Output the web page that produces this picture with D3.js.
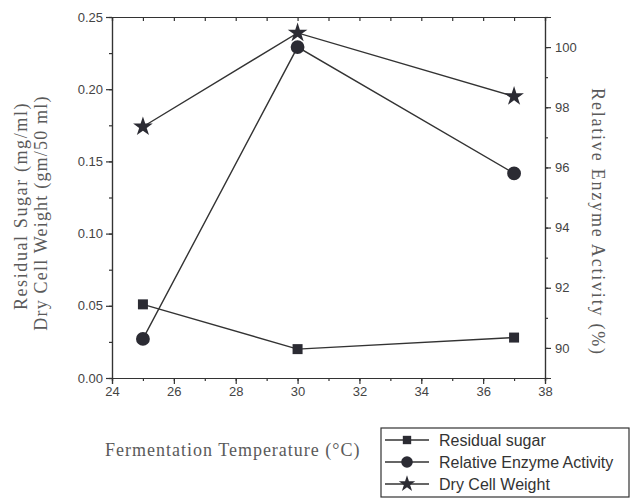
<!DOCTYPE html>
<html>
<head>
<meta charset="utf-8">
<script src="https://cdn.jsdelivr.net/npm/d3@7"></script>
<style>
  body { margin: 0; background: #fff; }
  .axis text { font-family: "Liberation Sans", Arial, sans-serif; font-size: 13px; fill: #444; }
  .axis path, .axis line { stroke: #333; stroke-width: 1.2; }
</style>
</head>
<body>
<svg id="chart"></svg>
<script>
const temps = [25, 30, 37];
const residualSugar = [0.051, 0.020, 0.028];
const enzymeActivity = [90.3, 100.0, 95.8];
const dryCellWeight = [0.174, 0.239, 0.195];

const xTicks = [24, 26, 28, 30, 32, 34, 36, 38];
const leftTicks = [0, 0.05, 0.10, 0.15, 0.20, 0.25];
const rightTicks = [90, 92, 94, 96, 98, 100];

const width = 631;
const height = 500;
const plotLeft = 112, plotRight = 545, plotTop = 17, plotBottom = 378;

const svg = d3.select("#chart")
  .attr("width", width)
  .attr("height", height);

const xScale = d3.scaleLinear().domain([24, 38]).range([plotLeft, plotRight]);
const yLeft = d3.scaleLinear().domain([0, 0.25]).range([plotBottom, plotTop]);
const yRight = d3.scaleLinear().domain([89, 101]).range([plotBottom, plotTop]);

// minor ticks first, then major ticks with labels
svg.append("g").attr("class", "axis")
  .attr("transform", `translate(0,${plotBottom})`)
  .call(d3.axisBottom(xScale).tickValues(d3.range(24, 39, 1)).tickSize(3).tickFormat(""));
svg.append("g").attr("class", "axis")
  .attr("transform", `translate(0,${plotBottom})`)
  .call(d3.axisBottom(xScale).tickValues(xTicks).tickSize(6).tickPadding(3).tickFormat(d3.format("d")));

svg.append("g").attr("class", "axis")
  .attr("transform", `translate(0,${plotTop})`)
  .call(d3.axisTop(xScale).tickValues(d3.range(24, 39, 1)).tickSize(-4).tickFormat(""));

svg.append("g").attr("class", "axis")
  .attr("transform", `translate(${plotLeft},0)`)
  .call(d3.axisLeft(yLeft).tickValues(d3.range(0, 0.26, 0.025)).tickSize(3).tickFormat(""));
svg.append("g").attr("class", "axis")
  .attr("transform", `translate(${plotLeft},0)`)
  .call(d3.axisLeft(yLeft).tickValues(leftTicks).tickSize(6).tickPadding(3).tickFormat(d3.format(".2f")));

svg.append("g").attr("class", "axis")
  .attr("transform", `translate(${plotRight},0)`)
  .call(d3.axisRight(yRight).tickValues(d3.range(89, 102, 1)).tickSize(3).tickFormat(""));
svg.append("g").attr("class", "axis")
  .attr("transform", `translate(${plotRight},0)`)
  .call(d3.axisRight(yRight).tickValues(rightTicks).tickSize(6).tickPadding(4).tickFormat(d3.format("d")));

// series
const series = [
  { name: "Residual sugar", values: residualSugar, y: yLeft, symbol: d3.symbolSquare, size: 100 },
  { name: "Relative Enzyme Activity", values: enzymeActivity, y: yRight, symbol: d3.symbolCircle, size: 150 },
  { name: "Dry Cell Weight", values: dryCellWeight, y: yLeft, symbol: d3.symbolStar, size: 120 }
];

series.forEach(s => {
  const pts = temps.map((t, i) => [xScale(t), s.y(s.values[i])]);
  svg.append("path")
    .attr("d", d3.line()(pts))
    .attr("fill", "none")
    .attr("stroke", "#333")
    .attr("stroke-width", 1.4);
  svg.selectAll(null)
    .data(pts)
    .enter()
    .append("path")
    .attr("transform", d => `translate(${d[0]},${d[1]})`)
    .attr("d", d3.symbol().type(s.symbol).size(s.size))
    .attr("fill", "#2b2b33");
});

// axis titles
const serif = "'Liberation Serif', 'Times New Roman', serif";
function title(transform, txt, spacing) {
  svg.append("text")
    .attr("transform", transform)
    .attr("text-anchor", "middle")
    .style("font-family", serif).style("font-size", "18px").style("fill", "#5a5a5a")
    .style("letter-spacing", spacing + "px")
    .text(txt);
}
title("translate(27,206) rotate(-90)", "Residual Sugar (mg/ml)", 1.6);
title("translate(47,213) rotate(-90)", "Dry Cell Weight (gm/50 ml)", 1.2);
title("translate(592,222) rotate(90)", "Relative Enzyme Activity (%)", 1.8);
svg.append("text")
  .attr("x", 105).attr("y", 456)
  .style("font-family", serif).style("font-size", "18px").style("fill", "#5a5a5a")
  .style("letter-spacing", "1px")
  .text("Fermentation Temperature (°C)");

// legend
const legend = svg.append("g").attr("transform", "translate(381,428)");
legend.append("rect")
  .attr("width", 248).attr("height", 69)
  .attr("fill", "none").attr("stroke", "#333").attr("stroke-width", 1.2);
series.forEach((s, i) => {
  const y = 12 + i * 22;
  legend.append("line")
    .attr("x1", 4).attr("x2", 48).attr("y1", y).attr("y2", y)
    .attr("stroke", "#333").attr("stroke-width", 1.4);
  legend.append("path")
    .attr("transform", `translate(26,${y})`)
    .attr("d", d3.symbol().type(s.symbol).size(s.size * 0.7))
    .attr("fill", "#2b2b33");
  legend.append("text")
    .attr("x", 58).attr("y", y + 6)
    .style("font-family", "'Liberation Sans', Arial, sans-serif")
    .style("font-size", "16px").style("fill", "#333")
    .text(s.name);
});
</script>
</body>
</html>
